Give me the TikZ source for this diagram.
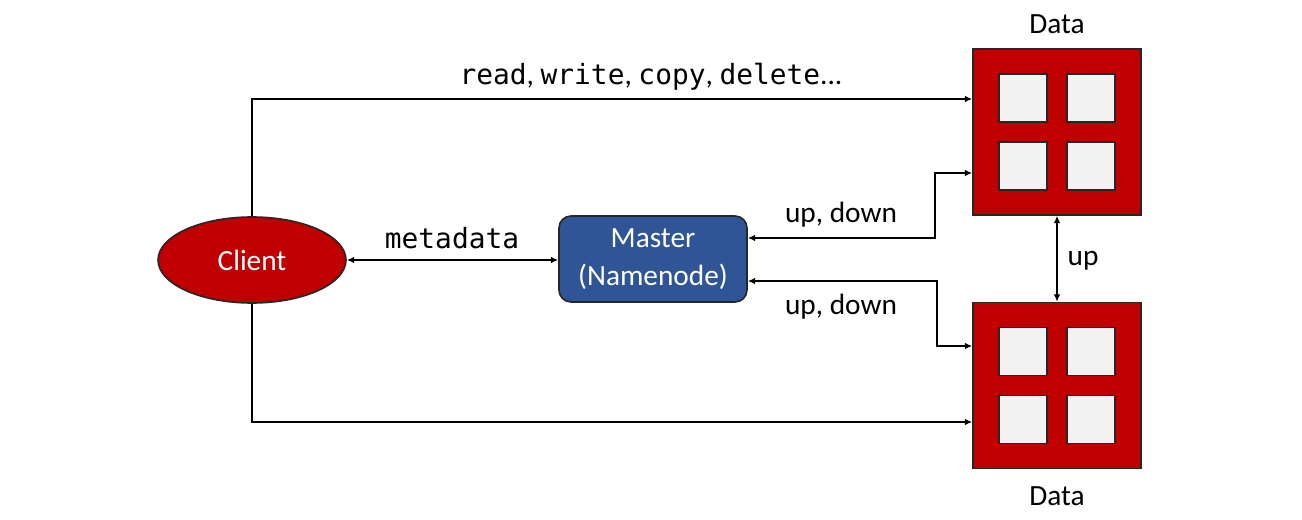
\documentclass[tikz,border=0pt]{standalone}
\usepackage{fontspec}
\setmainfont{Carlito}
\setmonofont{DejaVu Sans Mono}[Scale=0.95]
\usetikzlibrary{shapes.geometric,arrows.meta,calc}
\definecolor{datared}{HTML}{C00000}
\definecolor{masterblue}{HTML}{2F5597}
\definecolor{cellgray}{HTML}{F2F2F2}
\tikzset{
  lbl/.style={font=\fontsize{22}{26}\selectfont},
  client/.style={ellipse,draw=black!85,line width=1.2pt,fill=datared,text=white,
    minimum width=141pt,minimum height=64.5pt,inner sep=0pt,lbl},
  master/.style={rectangle,rounded corners=9pt,draw=black!85,line width=1.2pt,fill=masterblue,
    text=white,minimum width=141pt,minimum height=64.5pt,align=center,inner sep=0pt,lbl},
  datablock/.style={rectangle,draw=black!85,line width=1.2pt,fill=datared,
    minimum width=126pt,minimum height=124.5pt,inner sep=0pt},
  cell/.style={rectangle,draw=black!85,line width=1.2pt,fill=cellgray,
    minimum size=36pt,inner sep=0pt},
  link/.style={line width=1.2pt,-{Latex[length=5.5pt,width=5pt]}},
  biglink/.style={line width=1.2pt,{Latex[length=5.5pt,width=5pt]}-{Latex[length=5.5pt,width=5pt]}},
}
\begin{document}
\begin{tikzpicture}[x=0.75pt,y=-0.75pt]
  \useasboundingbox (0,0) rectangle (1302,520);
  % nodes
  \node[client] (client) at (252,260) {Client};
  \node[master] (master) at (653,259) {Master\\[2.5pt](Namenode)};
  \node[datablock] (data1) at (1057,132) {};
  \node[datablock] (data2) at (1057,385.5) {};
  \foreach \d in {data1,data2}
    \foreach \dx in {-34,34}
      \foreach \dy in {-34,34}
        \node[cell] at ($(\d)+(\dx,\dy)$) {};
  \node[lbl] (top) at (1057,24) {Data};
  \node[lbl] (bot) at (1057,496) {Data};
  % elbow points
  \coordinate (c1) at (252,99);
  \coordinate (c2) at (252,422);
  \coordinate (e1) at (935,173);
  \coordinate (e2) at (937,346);
  % connectors
  \draw[link] (client.north) -- (c1) -- (c1 -| data1.west);
  \draw[link] (client.south) -- (c2) -- (c2 -| data2.west);
  \draw[biglink] (client.east) -- (client.east -| master.west);
  \draw[biglink] (master.east |- 0,238) -- (e1 |- 0,238) -- (e1) -- (e1 -| data1.west);
  \draw[biglink] (master.east |- 0,281) -- (e2 |- 0,281) -- (e2) -- (e2 -| data2.west);
  \draw[biglink] (data1.south) -- (data2.north);
  % labels
  \node[lbl] at (452,238) {\ttfamily metadata};
  \node[lbl] at (1083,261) {up};
  \node[lbl] at (841,215) {up, down};
  \node[lbl] at (841,307) {up, down};
  \node[lbl] at (651,77) {\texttt{read}, \texttt{write}, \texttt{copy}, \texttt{delete}...};
\end{tikzpicture}
\end{document}
